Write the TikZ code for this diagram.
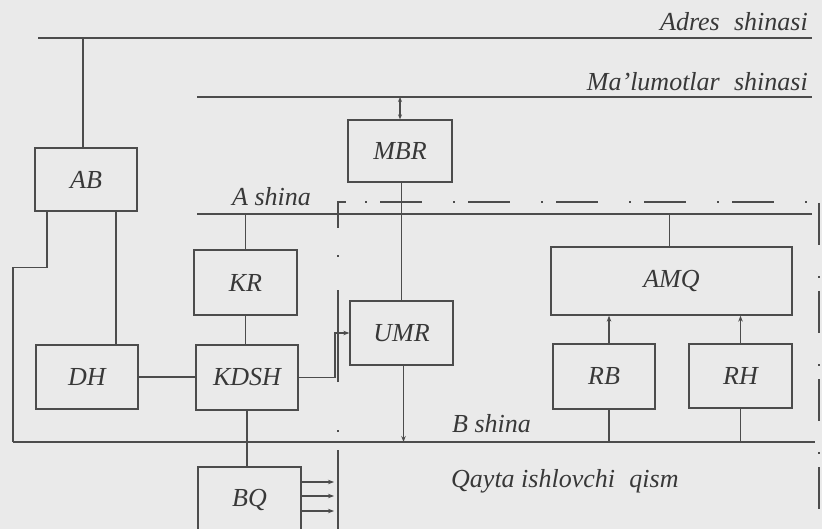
\documentclass[tikz,border=0pt]{standalone}
\usepackage{fontspec}
\setmainfont{Liberation Serif}
\usetikzlibrary{arrows.meta}
\definecolor{bg}{HTML}{EAEAEA}
\definecolor{ink}{HTML}{4C4C4C}
\definecolor{txt}{HTML}{383838}
\begin{document}
\begin{tikzpicture}[x=1pt,y=-1pt,
  blk/.style={draw=ink,line width=1.3pt,inner sep=0pt,text=txt,
    font=\fontsize{26}{30}\selectfont\itshape},
  bus/.style={draw=ink,line width=2.2pt},
  con/.style={draw=ink,line width=1.3pt},
  arr/.style={con,-{Stealth[length=6pt,width=4.5pt]}},
  darr/.style={con,{Stealth[length=5pt,width=4pt]}-{Stealth[length=5pt,width=4pt]}},
  lbl/.style={inner sep=0pt,text=txt,font=\fontsize{26}{30}\selectfont\itshape},
  edge1/.style={draw=ink,line width=1.3pt,dash pattern=on 79pt off 18pt on 2pt off 48pt on 92pt off 33pt on 2pt off 27pt on 40pt},
  edge2/.style={draw=ink,line width=1.3pt,dash pattern=on 2pt off 13pt on 42pt off 31pt}]
\fill[bg] (0,0) rectangle (822,529);
\useasboundingbox (0,0) rectangle (822,529);
\clip (0,0) rectangle (822,529);

% bus end points
\coordinate (adrW) at (38,38);   \coordinate (adrE) at (812,38);
\coordinate (datW) at (197,97);  \coordinate (datE) at (812,97);
\coordinate (aW) at (197,214);   \coordinate (aE) at (812,214);
\coordinate (bW) at (13,442);    \coordinate (bE) at (815,442);

\draw[bus] (adrW) -- (adrE);
\draw[bus] (datW) -- (datE);
\draw[bus] (aW) -- (aE);
\draw[bus] (bW) -- (bE);

% bus labels
\node[lbl,anchor=base east] (adrL) at (808,31) {Adres\hspace{0.3em} shinasi};
\node[lbl,anchor=base east] (datL) at (808,91) {Ma'lumotlar\hspace{0.3em} shinasi};
\node[lbl,anchor=base west] (aL) at (232,206) {A shina};
\node[lbl,anchor=base west] (bL) at (452,432) {B shina};
\node[lbl,anchor=base west] (qL) at (451,487) {Qayta ishlovchi\hspace{0.3em} qism};

% blocks
\node[blk,minimum width=102pt,minimum height=63pt] (AB) at (86,179.5) {AB};
\node[blk,minimum width=104pt,minimum height=62pt] (MBR) at (400,151) {MBR};
\node[blk,minimum width=103pt,minimum height=65pt] (KR) at (245.5,282.5) {KR};
\node[blk,minimum width=241pt,minimum height=68pt] (AMQ) at (671.5,281) {AMQ};
\node[blk,minimum width=103pt,minimum height=64pt] (UMR) at (401.5,333) {UMR};
\node[blk,minimum width=102pt,minimum height=64pt] (DH) at (87,377) {DH};
\node[blk,minimum width=102pt,minimum height=65pt] (KDSH) at (247,377.5) {KDSH};
\node[blk,minimum width=102pt,minimum height=65pt] (RB) at (604,376.5) {RB};
\node[blk,minimum width=103pt,minimum height=64pt] (RH) at (740.5,376) {RH};
\node[blk,minimum width=103pt,minimum height=66pt] (BQ) at (249.5,500) {BQ};

% processing part boundary
\draw[edge1] (338,529) -- (338,202) -- (346,202);
\draw[edge2] (365,202) -- (819,202) -- (819,529);

% connectors
\draw[con] ([xshift=-3pt]AB.north) -- ([xshift=-3pt]AB.north |- adrW);
\draw[darr] (MBR.north) -- (MBR.north |- datW);
\draw[con] (UMR.north |- MBR.south) -- (UMR.north);
\draw[con] ([xshift=-39pt]AB.south) -- ++(0,56) -| (bW);
\draw[con] ([xshift=30pt]AB.south) -- ([xshift=30pt]AB.south |- DH.north);
\draw[con] (KR.north) -- (KR.north |- aW);
\draw[con] (KR.south) -- (KR.south |- KDSH.north);
\draw[con] (DH.east) -- (DH.east -| KDSH.west);
\coordinate (kb) at (335,377.5);
\draw[arr] (KDSH.east) -- (kb) |- (UMR.west);
\draw[con] (KDSH.south) -- (KDSH.south |- BQ.north);
\draw[arr] ([xshift=2pt]UMR.south) -- ([xshift=2pt]UMR.south |- bW);
\draw[con] ([xshift=-2pt]AMQ.north) -- ([xshift=-2pt]AMQ.north |- aW);
\draw[arr] ([xshift=5pt]RB.north) -- ([xshift=5pt]RB.north |- AMQ.south);
\draw[arr] (RH.north) -- (RH.north |- AMQ.south);
\draw[con] ([xshift=5pt]RB.south) -- ([xshift=5pt]RB.south |- bW);
\draw[con] (RH.south) -- (RH.south |- bW);
\coordinate (bqx) at (334,0);
\draw[arr] (BQ.east |- 0,482) -- (bqx |- 0,482);
\draw[arr] (BQ.east |- 0,496) -- (bqx |- 0,496);
\draw[arr] (BQ.east |- 0,511) -- (bqx |- 0,511);
\end{tikzpicture}
\end{document}
